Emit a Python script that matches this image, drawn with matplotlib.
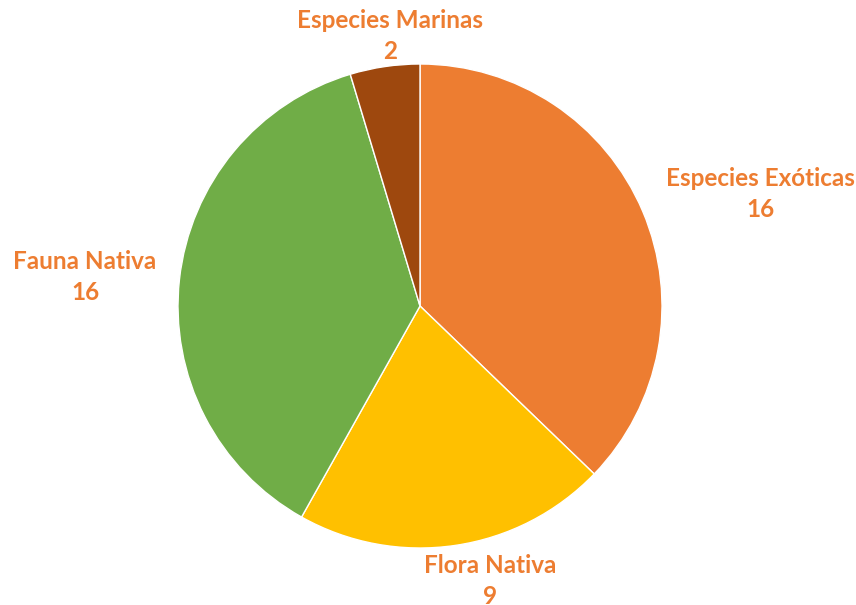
import matplotlib
matplotlib.use("Agg")
import matplotlib.pyplot as plt

categories = ["Especies Exóticas", "Flora Nativa", "Fauna Nativa", "Especies Marinas"]
values = [16, 9, 16, 2]
colors = ["#ED7D31", "#FFC000", "#70AD47", "#9E480E"]
label_color = "#ED7D31"

W, H = 856, 605
cx, cy, r = 420, 306, 242

fig = plt.figure(figsize=(W / 100, H / 100), dpi=100)
ax = fig.add_axes([(cx - r) / W, (H - cy - r) / H, 2 * r / W, 2 * r / H])
ax.pie(values, colors=colors, startangle=90, counterclock=False, radius=1,
       wedgeprops=dict(edgecolor="white", linewidth=1))
ax.set_xlim(-1, 1)
ax.set_ylim(-1, 1)
ax.set_aspect("equal")
ax.axis("off")

# label centre positions in pixels
label_px = [(760, 194), (490, 581), (85, 277), (390, 36)]
for cat, val, (px, py) in zip(categories, values, label_px):
    ax.text((px - cx) / r, (cy - py) / r, f"{cat}\n{val}", ha="center", va="center",
            color=label_color, fontsize=17.5, fontweight="bold", family="Lato",
            linespacing=1.4, clip_on=False)

fig.savefig("out.png", dpi=100)
